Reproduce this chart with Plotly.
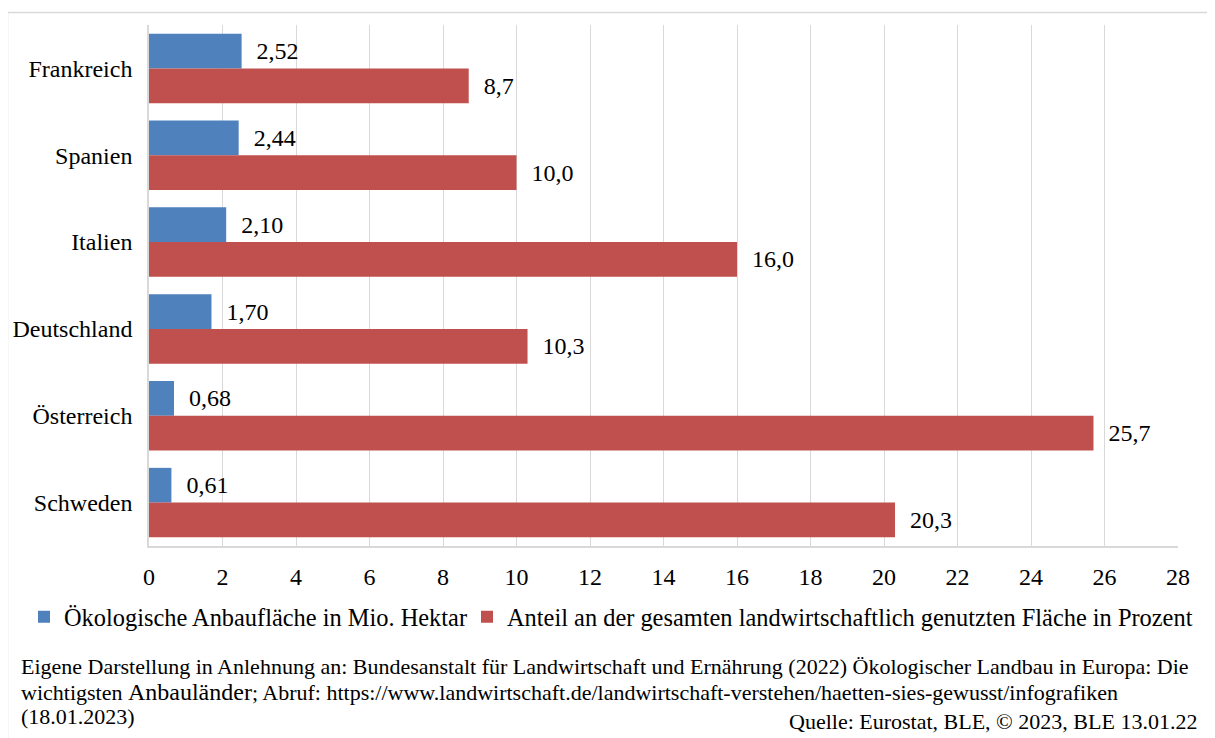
import plotly.graph_objects as go

countries = ["Frankreich", "Spanien", "Italien", "Deutschland", "Österreich", "Schweden"]
area_mio_ha = [2.52, 2.44, 2.10, 1.70, 0.68, 0.61]
share_pct = [8.7, 10.0, 16.0, 10.3, 25.7, 20.3]
name_area = "Ökologische Anbaufläche in Mio. Hektar"
name_share = "Anteil an der gesamten landwirtschaftlich genutzten Fläche in Prozent"
x_ticks = list(range(0, 29, 2))

# page offset caused by the default body margin of the html page
OX, OY = 8, 8
W, H = 1215 - OX, 738 - OY
# plot area in page pixels (as in the reference)
PL, PR, PT, PB = 149, 1178, 25, 546
L, R, T, B = PL - OX, PR - OX, PT - OY, PB - OY


def px2x(px):
    return (px - OX - L) / (R - L)


def py2y(py):
    return (B - (py - OY)) / (B - T)


FONT = "Liberation Serif, Times New Roman, serif"
NB = "\u00a0\u00a0"

fig = go.Figure()
fig.add_trace(go.Bar(
    y=countries, x=area_mio_ha, orientation="h", name=name_area,
    marker=dict(color="#4f81bd", line=dict(width=0)),
    texttemplate=NB + "%{x:.2f}", textposition="outside",
    textfont=dict(family=FONT, size=24, color="black"), cliponaxis=False,
    legend="legend",
))
fig.add_trace(go.Bar(
    y=countries, x=share_pct, orientation="h", name=name_share,
    marker=dict(color="#c0504d", line=dict(width=0)),
    texttemplate=NB + "%{x:.1f}", textposition="outside",
    textfont=dict(family=FONT, size=24, color="black"), cliponaxis=False,
    legend="legend2",
))

legend_common = dict(
    orientation="h", xanchor="left", y=py2y(617), yanchor="middle",
    font=dict(family=FONT, size=24.4, color="black"), itemwidth=30, bgcolor="rgba(0,0,0,0)",
)

fig.update_layout(
    width=W, height=H,
    margin=dict(l=L, r=W - R, t=T, b=H - B, pad=0, autoexpand=False),
    paper_bgcolor="white", plot_bgcolor="white",
    separators=",.",
    barmode="group", bargap=0.2, bargroupgap=0,
    font=dict(family=FONT, size=24, color="black"),
    xaxis=dict(
        range=[0, 28], tickvals=x_ticks, showgrid=True, gridcolor="#d9d9d9", gridwidth=1,
        zeroline=False, showline=True, linecolor="#d9d9d9", linewidth=1.5,
        ticks="", ticklabelstandoff=8, tickfont=dict(size=24), automargin=False,
    ),
    yaxis=dict(
        autorange="reversed", showgrid=False, zeroline=False,
        showline=True, linecolor="#d9d9d9", linewidth=1.5,
        ticks="", ticklabelstandoff=10, tickfont=dict(size=24), automargin=False,
    ),
    showlegend=True,
    legend=dict(x=px2x(24), **legend_common),
    legend2=dict(x=px2x(467), **legend_common),
    shapes=[dict(
        type="rect", xref="paper", yref="paper",
        x0=px2x(7.5), x1=px2x(1212.5), y0=py2y(760), y1=py2y(12.5),
        line=dict(color="#d9d9d9", width=1.5), fillcolor="rgba(0,0,0,0)", layer="below",
    )],
)

footer = [
    ("Eigene Darstellung in Anlehnung an: Bundesanstalt für Landwirtschaft und Ernährung (2022) Ökologischer Landbau in Europa: Die", 666),
    ("wichtigsten <span style='font-size:24px'>Anbauländer</span>; Abruf: https://www.landwirtschaft.de/landwirtschaft-verstehen/haetten-sies-gewusst/infografiken", 692),
    ("(18.01.2023)", 716),
]
for txt, yc in footer:
    fig.add_annotation(
        text=txt, xref="paper", yref="paper", x=px2x(19), y=py2y(yc),
        xanchor="left", yanchor="middle", showarrow=False,
        font=dict(family=FONT, size=22, color="black"),
    )
fig.add_annotation(
    text="Quelle: Eurostat, BLE, © 2023, BLE 13.01.22", xref="paper", yref="paper",
    x=px2x(1199), y=py2y(721), xanchor="right", yanchor="middle", showarrow=False,
    font=dict(family=FONT, size=22, color="black"),
)

fig.write_html("out.html")
